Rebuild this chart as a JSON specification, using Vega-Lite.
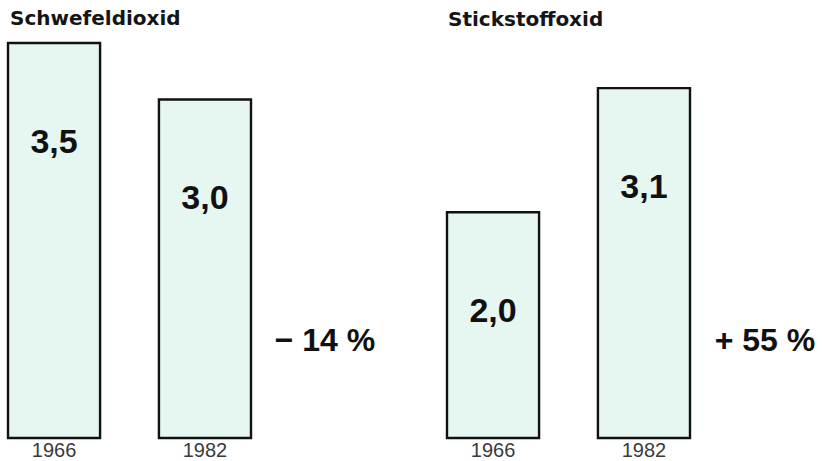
{
  "$schema": "https://vega.github.io/schema/vega-lite/v6.json",
  "autosize": {"type": "pad"},
  "padding": {"left": 0, "top": 8, "right": 0, "bottom": 0},
  "background": "white",
  "config": {"view": {"stroke": null}, "font": "Liberation Sans"},
  "datasets": {
    "bars": [
      {"gas": "Schwefeldioxid", "year": "1966", "value": 3.5, "label": "3,5"},
      {"gas": "Schwefeldioxid", "year": "1982", "value": 3.0, "label": "3,0"},
      {"gas": "Stickstoffoxid", "year": "1966", "value": 2.0, "label": "2,0"},
      {"gas": "Stickstoffoxid", "year": "1982", "value": 3.1, "label": "3,1"}
    ],
    "changes": [
      {"gas": "Schwefeldioxid", "year": "1982", "change": "− 14 %"},
      {"gas": "Stickstoffoxid", "year": "1982", "change": "+ 55 %"}
    ]
  },
  "spacing": 180,
  "bounds": "flush",
  "hconcat": [
    {
      "width": 259,
      "height": 395,
      "title": {"text": "Schwefeldioxid", "anchor": "start", "font": "DejaVu Sans", "fontSize": 20, "fontWeight": "bold", "dx": 10, "offset": 13, "color": "#151515"},
      "layer": [
        {
          "data": {"name": "bars"},
          "transform": [{"filter": "datum.gas === 'Schwefeldioxid'"}],
          "mark": {"type": "bar", "fill": "#e6f6f1", "stroke": "#111", "strokeWidth": 2.4},
          "encoding": {
            "x": {"field": "year", "type": "nominal", "scale": {"domain": ["1966", "1982"], "paddingInner": 0.39, "paddingOuter": 0.053}, "axis": {"title": null, "labelAngle": 0, "domain": false, "ticks": false, "labelFontSize": 20, "labelColor": "#3a3a3a", "labelPadding": 2}},
            "y": {"field": "value", "type": "quantitative", "scale": {"domain": [0, 3.5], "nice": false}, "axis": null}
          }
        },
        {
          "data": {"name": "bars"},
          "transform": [{"filter": "datum.gas === 'Schwefeldioxid'"}],
          "mark": {"type": "text", "baseline": "middle", "dy": 100, "fontSize": 34, "fontWeight": "bold", "color": "#111"},
          "encoding": {
            "x": {"field": "year", "type": "nominal"},
            "y": {"field": "value", "type": "quantitative"},
            "text": {"field": "label"}
          }
        },
        {
          "data": {"name": "changes"},
          "transform": [{"filter": "datum.gas === 'Schwefeldioxid'"}],
          "mark": {"type": "text", "baseline": "middle", "dx": 120, "fontSize": 32, "fontWeight": "bold", "color": "#111"},
          "encoding": {
            "x": {"field": "year", "type": "nominal"},
            "y": {"datum": 0.86},
            "text": {"field": "change"}
          }
        }
      ]
    },
    {
      "width": 259,
      "height": 395,
      "title": {"text": "Stickstoffoxid", "anchor": "start", "font": "DejaVu Sans", "fontSize": 20, "fontWeight": "bold", "dx": 9, "offset": 13, "color": "#151515"},
      "layer": [
        {
          "data": {"name": "bars"},
          "transform": [{"filter": "datum.gas === 'Stickstoffoxid'"}],
          "mark": {"type": "bar", "fill": "#e6f6f1", "stroke": "#111", "strokeWidth": 2.4},
          "encoding": {
            "x": {"field": "year", "type": "nominal", "scale": {"domain": ["1966", "1982"], "paddingInner": 0.39, "paddingOuter": 0.053}, "axis": {"title": null, "labelAngle": 0, "domain": false, "ticks": false, "labelFontSize": 20, "labelColor": "#3a3a3a", "labelPadding": 2}},
            "y": {"field": "value", "type": "quantitative", "scale": {"domain": [0, 3.5], "nice": false}, "axis": null}
          }
        },
        {
          "data": {"name": "bars"},
          "transform": [{"filter": "datum.gas === 'Stickstoffoxid'"}],
          "mark": {"type": "text", "baseline": "middle", "dy": 100, "fontSize": 34, "fontWeight": "bold", "color": "#111"},
          "encoding": {
            "x": {"field": "year", "type": "nominal"},
            "y": {"field": "value", "type": "quantitative"},
            "text": {"field": "label"}
          }
        },
        {
          "data": {"name": "changes"},
          "transform": [{"filter": "datum.gas === 'Stickstoffoxid'"}],
          "mark": {"type": "text", "baseline": "middle", "dx": 121, "fontSize": 32, "fontWeight": "bold", "color": "#111"},
          "encoding": {
            "x": {"field": "year", "type": "nominal"},
            "y": {"datum": 0.86},
            "text": {"field": "change"}
          }
        }
      ]
    }
  ]
}
